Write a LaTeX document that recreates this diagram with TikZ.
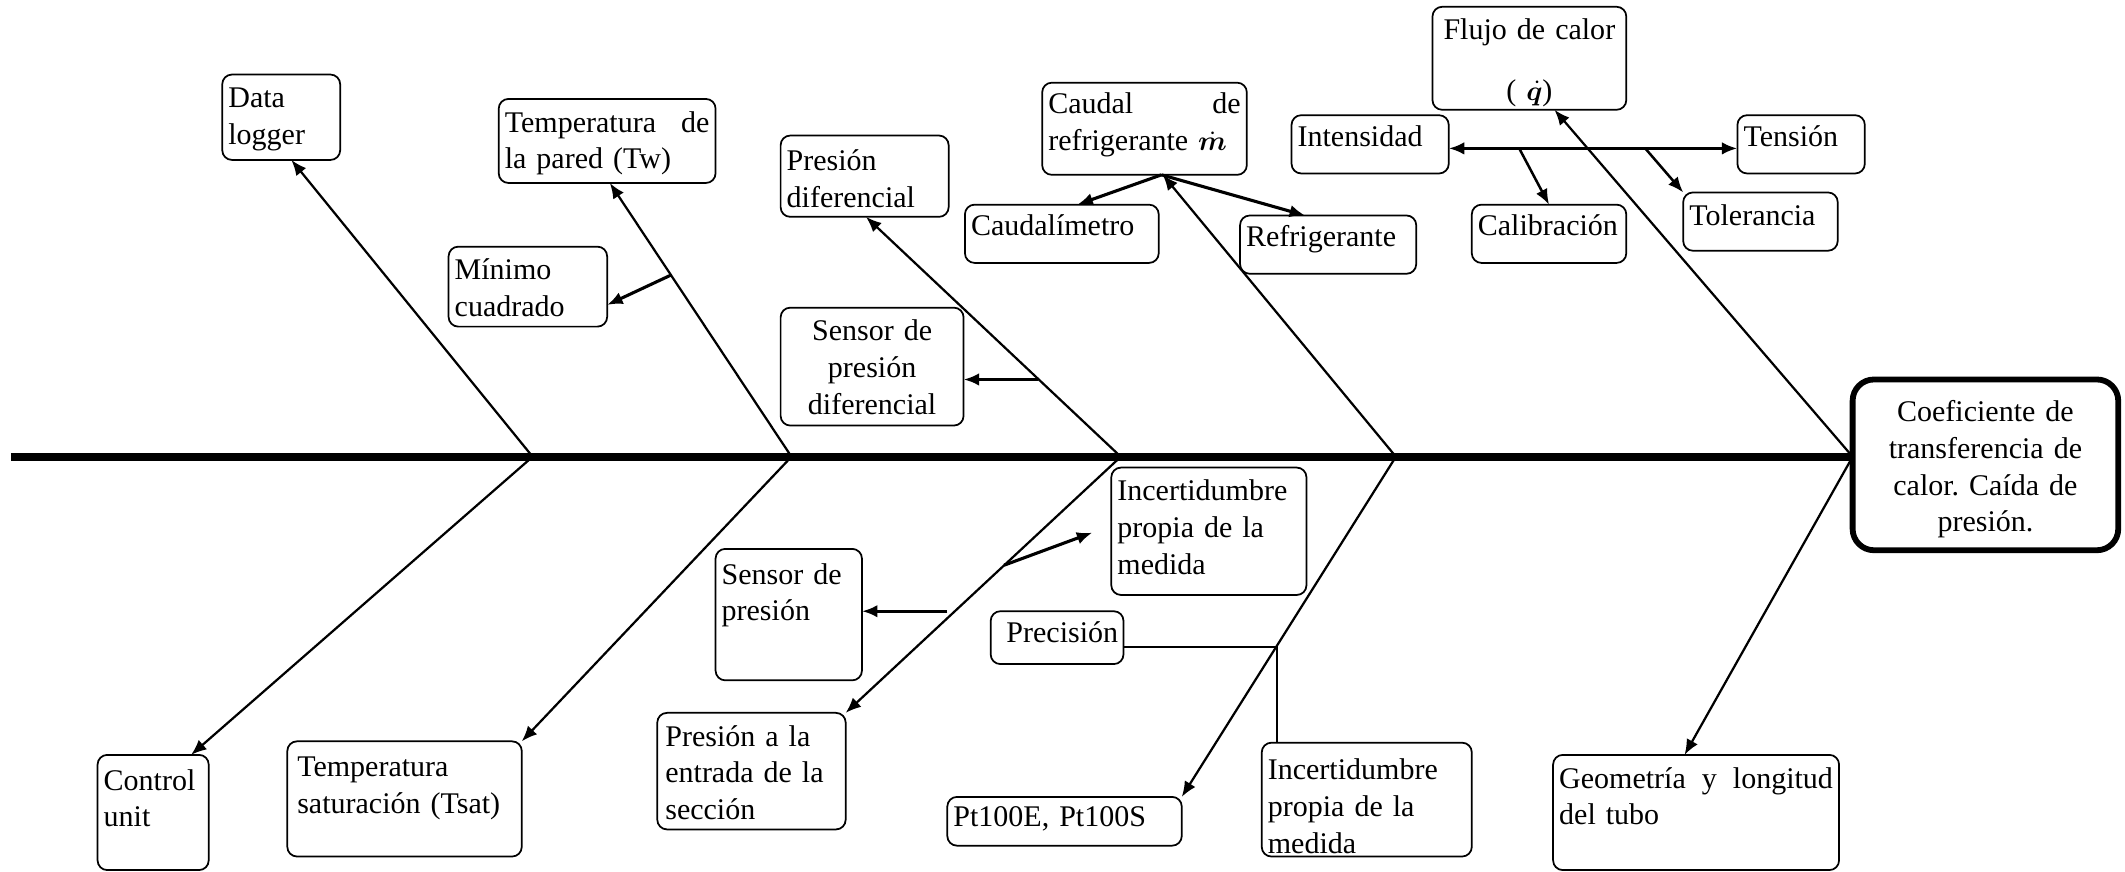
\documentclass[tikz,border=0pt]{standalone}
\usepackage{fontspec}
\setmainfont{Liberation Serif}
\usepackage{bm}
\usetikzlibrary{arrows.meta,calc}
\frenchspacing
\tikzset{
 every node/.style={font=\fontsize{15.5}{19}\selectfont},
 bx/.style={draw, line width=0.9pt, rounded corners=5pt, inner sep=0pt, outer sep=0pt, fill=white},
 mainbox/.style={draw, line width=3pt, rounded corners=11pt, inner sep=0pt, outer sep=0pt, fill=white},
 txt/.style={anchor=north west, inner sep=0pt, outer sep=0pt},
 arr/.style={-{Latex[length=8pt,width=6.5pt]}, line width=1.15pt},
 sub/.style={arr, line width=1.6pt},
 dbl/.style={{Latex[length=8pt,width=6.5pt]}-{Latex[length=8pt,width=6.5pt]}, line width=1.6pt},
 plain/.style={line width=1pt},
 spine/.style={line width=4.3pt},
}
% #1 text options, #2 name, #3 x1, #4 y1, #5 x2, #6 y2, #7 align, #8 text
\newcommand\BX[8][]{%
  \pgfmathsetlengthmacro\bxw{(#5-#3)*0.7pt}%
  \pgfmathsetlengthmacro\bxh{(#6-#4)*0.7pt}%
  \pgfmathsetlengthmacro\bxt{(#5-#3-9)*0.7pt}%
  \node[bx, minimum width=\bxw, minimum height=\bxh] (#2) at ({(#3+#5)/2},{(#4+#6)/2}) {};
  \node[txt, text width=\bxt, align=#7, #1] (#2t) at ({#3+4.5},{#4+5.5}) {\strut #8};
}
\begin{document}
\begin{tikzpicture}[x=0.7pt,y=-0.7pt]
\useasboundingbox (0,0) rectangle (1568,643);
% boxes top
\BX{dl}{164}{55}{251}{118}{left}{Data\\logger}
\BX{tw}{368}{73}{528}{135}{left}{Temperatura\hfill de\\la pared (Tw)}
\BX{mc}{331}{182}{448}{241}{left}{Mínimo\\cuadrado}
\BX[yshift=-1pt]{pd}{576}{100}{700}{160}{left}{Presión\\diferencial}
\BX{sd}{576}{227}{711}{314}{center}{Sensor de\\presión\\diferencial}
\BX[yshift=1pt]{cd}{769}{61}{920}{129}{left}{Caudal\hfill de\\refrigerante $\dot{\bm m}$}
\BX[yshift=1pt]{cm}{712}{151}{855}{194}{left}{Caudalímetro}
\BX[yshift=1pt]{rf}{915}{159}{1045}{202}{left}{Refrigerante}
\BX{fl}{1057}{5}{1200}{81}{center}{Flujo de calor\\[12pt]( $\dot{\bm q}$)}
\BX[yshift=1pt]{in}{953}{85}{1069}{128}{left}{Intensidad}
\BX[yshift=1pt]{tn}{1282}{85}{1376}{128}{left}{Tensión}
\BX[yshift=1pt]{ca}{1086}{151}{1200}{194}{left}{Calibración}
\BX{to}{1242}{142}{1356}{185}{left}{Tolerancia}
% boxes bottom
\BX[yshift=-1pt]{cu}{72}{557}{154}{642}{left}{Control\\unit}
\BX[yshift=-1pt, xshift=2pt]{ts}{212}{547}{385}{632}{left}{Temperatura\\saturación (Tsat)}
\BX[xshift=1pt]{pe}{485}{526}{624}{612}{left}{Presión a la\\entrada de la\\sección}
\BX[yshift=-1pt]{sp}{528}{405}{636}{502}{left}{Sensor de\\presión}
\BX{iu}{820}{345}{964}{439}{left}{Incertidumbre\\propia de la\\medida}
\BX[xshift=5pt, yshift=1pt]{pr}{731}{451}{829}{490}{left}{Precisión}
\BX[yshift=2pt]{pt}{699}{588}{872}{624}{left}{Pt100E, Pt100S}
\BX[yshift=-2pt]{iu2}{931}{548}{1086}{632}{left}{Incertidumbre\\propia de la\\medida}
\BX{ge}{1146}{557}{1357}{642}{left}{Geometría\hfill y\hfill longitud\\del tubo}
% main box
\pgfmathsetlengthmacro\mw{196*0.7pt}
\pgfmathsetlengthmacro\mh{126*0.7pt}
\pgfmathsetlengthmacro\mt{186*0.7pt}
\node[mainbox, minimum width=\mw, minimum height=\mh] (main) at (1465,343) {};
\node[txt, text width=\mt, align=center] (maint) at (1372,292) {\strut Coeficiente de\\transferencia de\\calor. Caída de\\presión.};
% spine
\coordinate (s0) at (8,337);
\coordinate (j1) at (393,337);
\coordinate (j2) at (584,337);
\coordinate (j3) at (827,337);
\coordinate (j4) at (1030,337);
\coordinate (j5) at (main.west |- s0);
\draw[spine] (s0) -- (j5);
% main branches up
\draw[arr] (j1) -- ($(dl.south)+(7.5,0)$);
\draw[arr] (j2) -- ($(tw.south)+(2,0)$);
\draw[arr] (j3) -- ($(pd.south)+(1,0)$);
\draw[arr] (j4) -- ($(cd.south)+(13.5,0)$);
\draw[arr] (j5) -- ($(fl.south)+(18.5,0)$);
% main branches down
\draw[arr] (j1) -- ($(cu.north)+(28,0)$);
\draw[arr] (j2) -- (ts.north east);
\draw[arr] (j3) -- (pe.north east);
\draw[arr] (j4) -- (pt.north east);
\draw[arr] (j5) -- ($(ge.north)+(-8.5,0)$);
% sub branches
\coordinate (m1) at (495,203);
\draw[sub] (m1) -- ($(mc.east)+(0,13.5)$);
\coordinate (m2) at (766,280);
\draw[sub] (m2) -- (m2 -| sd.east);
\coordinate (cdb) at ($(cd.south)+(12.5,0)$);
\draw[sub] (cdb) -- ($(cm.north)+(11.5,0)$);
\draw[sub] (cdb) -- ($(rf.north)+(-17,0)$);
\draw[dbl] ($(in.east)+(0,3)$) -- ($(tn.west)+(0,3)$);
\coordinate (h1) at (1121,109.5);
\coordinate (h2) at (1214,109.5);
\draw[arr, line width=1.3pt] (h1) -- (ca.north);
\draw[arr, line width=1.3pt] (h2) -- (to.north west);
\coordinate (n1) at (741,417);
\draw[sub] (n1) -- ($(iu.west)+(-14,1)$);
\coordinate (n2) at (699,451);
\draw[sub] (n2) -- (n2 -| sp.east);
\coordinate (k) at (942,477.5);
\draw[plain] ($(pr.east)+(0,7)$) -- (k) -- (k |- iu2.north);
\end{tikzpicture}
\end{document}
